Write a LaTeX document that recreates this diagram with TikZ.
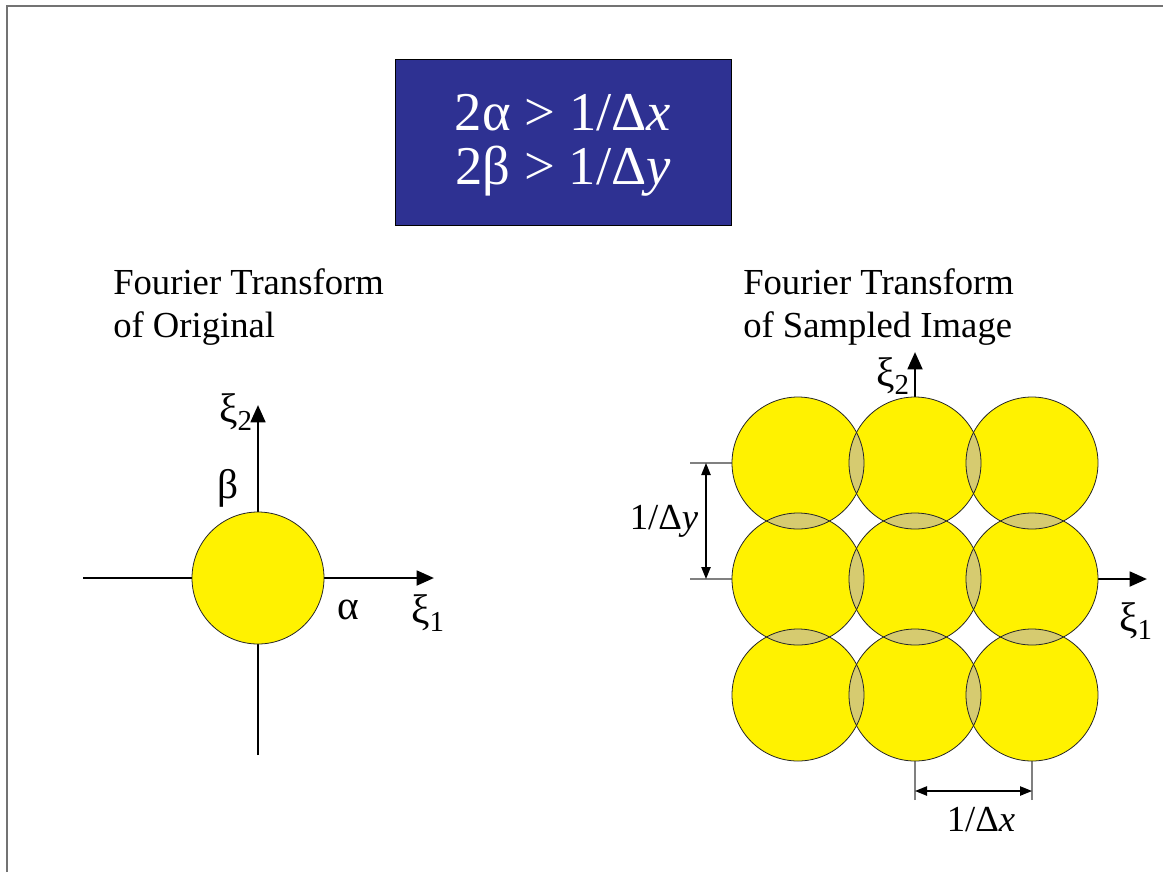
\documentclass[tikz,border=0pt]{standalone}
\usepackage{fontspec}
\setmainfont{Liberation Serif}
\usetikzlibrary{arrows.meta}
\definecolor{boxblue}{RGB}{46,49,146}
\definecolor{disk}{RGB}{255,242,0}
\definecolor{lens}{RGB}{214,203,112}
\begin{document}
\begin{tikzpicture}[x=0.75pt,y=-0.75pt,>={Stealth[length=13pt,width=11pt,inset=0pt]},
	axis/.style={line width=2.1pt,->},
	dim/.style={line width=1pt,{Stealth[length=9pt,width=7pt,inset=0pt]}-{Stealth[length=9pt,width=7pt,inset=0pt]}},
	ext/.style={gray,line width=0.8pt},
	rim/.style={draw=black!85,line width=0.6pt},
	lbl/.style={font=\fontsize{27.5}{32.5}\selectfont,inner sep=0pt},
	sym/.style={font=\fontsize{31}{36}\selectfont,inner sep=0pt}]
	\useasboundingbox (0,0) rectangle (1163,872);
	% frame
	\draw[black!55,line width=1.5pt] (7,872) -- (7,6) -- (1163,6);
	% conditions
	\node[draw=black,line width=0.6pt,fill=boxblue,text=white,minimum width=252pt,minimum height=124.5pt,font=\fontsize{41}{39}\selectfont] (cond) at (563,142) {\raisebox{-4pt}[\height][\depth]{\begin{tabular}{@{}c@{}}2α > 1/Δ\textit{x}\\2β > 1/Δ\textit{y}\end{tabular}}};
	% titles
	\node[lbl,anchor=north west,align=left] (origT) at (113,268) {Fourier Transform\\of Original};
	\node[lbl,anchor=north west,align=left] (sampT) at (743,268) {Fourier Transform\\of Sampled Image};
	% original spectrum
	\coordinate (o) at (258,578);
	\coordinate (lw) at (83,578);
	\coordinate (le) at (434,578);
	\coordinate (ls) at (258,755);
	\coordinate (ln) at (258,405);
	\draw[axis] (lw) -- (le);
	\draw[axis] (ls) -- (ln);
	\filldraw[fill=disk,rim] (o) circle (66);
	\node[sym] (lxi2) at (236,412) {ξ\textsubscript{2}};
	\node[sym] (beta) at (228,488) {β};
	\node[sym] (alpha) at (348,610) {α};
	\node[sym] (lxi1) at (428,613) {ξ\textsubscript{1}};
	% sampled spectrum
	\foreach \c in {0,1,2}
		\foreach \r in {0,1,2}
			\coordinate (c\c\r) at ({798+117*\c},{463+116*\r});
	\coordinate (rn) at (915,352);
	\coordinate (re) at (1147,579);
	\coordinate (ya) at (690,463);
	\coordinate (yb) at (690,579);
	\coordinate (xa) at (915,800);
	\coordinate (xb) at (1032,800);
	\draw[axis] (c11) -- (re);
	\draw[axis] (c11) -- (rn);
	\draw[ext] (ya) -- (c00);
	\draw[ext] (yb) -- (c01);
	\draw[ext] (xa) -- (c12);
	\draw[ext] (xb) -- (c22);
	\foreach \c in {0,1,2}
		\foreach \r in {0,1,2}
			\fill[disk] (c\c\r) circle (66);
	\foreach \c/\d in {0/1,1/2}
		\foreach \r in {0,1,2}
		{
			\begin{scope}
				\clip (c\c\r) circle (66);
				\fill[lens] (c\d\r) circle (66);
			\end{scope}
		}
	\foreach \c in {0,1,2}
		\foreach \r/\s in {0/1,1/2}
		{
			\begin{scope}
				\clip (c\c\r) circle (66);
				\fill[lens] (c\c\s) circle (66);
			\end{scope}
		}
	\foreach \c in {0,1,2}
		\foreach \r in {0,1,2}
			\draw[rim] (c\c\r) circle (66);
	\node[sym] (rxi2) at (893,376) {ξ\textsubscript{2}};
	\node[sym] (rxi1) at (1136,621) {ξ\textsubscript{1}};
	% spacings
	\coordinate (dyt) at (706,463);
	\coordinate (dyb) at (706,579);
	\coordinate (dxl) at (915,791);
	\coordinate (dxr) at (1032,791);
	\draw[dim] (dyt) -- (dyb);
	\draw[dim] (dxl) -- (dxr);
	\node[lbl] (dylbl) at (664,521) {1/Δ\textit{y}};
	\node[lbl] (dxlbl) at (981,820) {1/Δ\textit{x}};
\end{tikzpicture}
\end{document}
